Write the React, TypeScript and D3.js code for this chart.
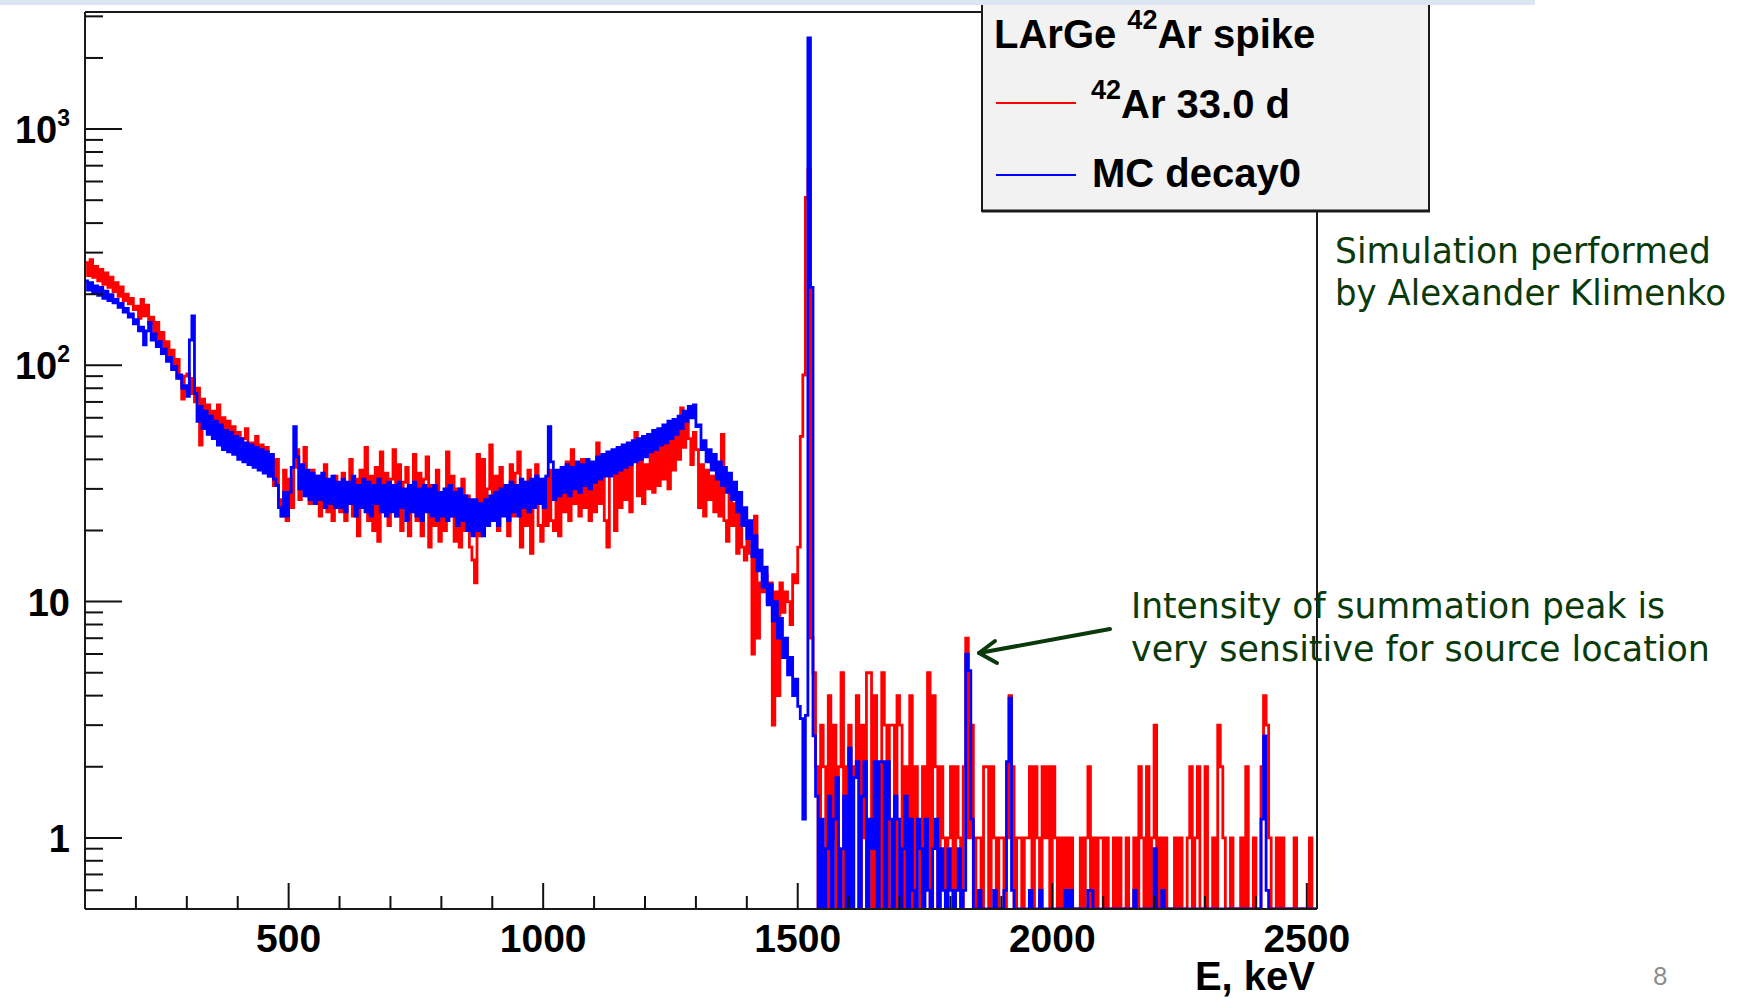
import React from "react";
import * as d3 from "d3";

// ---- binning / ranges ----
const E_MIN = 100;
const E_MAX = 2520;
const BIN_WIDTH = 5;
const Y_MIN = 0.5;
const Y_MAX = 3130;

// ---- axis ticks ----
const xMajorTicks = [500, 1000, 1500, 2000, 2500];
const xMinorTicks = [200, 300, 400, 600, 700, 800, 900, 1100, 1200, 1300, 1400, 1600, 1700, 1800, 1900, 2100, 2200, 2300, 2400];
const yMajorTicks = [1, 10, 100, 1000];
const yTickBase = ["1", "10", "10", "10"];
const yTickExp = ["", "", "2", "3"];
const yMinorTicks = [0.6, 0.7, 0.8, 0.9, 2, 3, 4, 5, 6, 7, 8, 9, 20, 30, 40, 50, 60, 70, 80, 90, 200, 300, 400, 500, 600, 700, 800, 900, 2000, 3000];

// ---- MC decay0 (blue), bins of 5 keV starting at 100 keV ----
const mc100to595 = [
  228, 208, 224, 203, 217, 198, 214, 192, 206, 188, 199, 184, 190, 176, 183, 168, 174, 160, 165, 150,
  156, 140, 145, 122, 140, 152, 128, 136, 120, 126, 112, 117, 104, 108, 96, 99, 88, 91, 80, 82,
  74, 128, 162, 76, 58, 67, 54, 64, 51, 61, 49, 58, 46, 56, 44, 53, 43, 52, 42, 50,
  40, 49, 39, 47, 38, 46, 37, 45, 36, 44, 35, 43, 34, 42, 33, 31, 25, 23, 29, 23,
  29, 37, 55, 41, 30, 38, 28, 36, 27, 35, 26, 34, 27, 35, 25, 33, 26, 34, 25, 32,
];
const mc600to1095 = [
  25, 33, 24, 32, 26, 34, 23, 31, 25, 33, 24, 32, 23, 31, 26, 33, 24, 31, 23, 32,
  24, 31, 23, 32, 25, 30, 22, 31, 24, 32, 23, 30, 22, 31, 24, 30, 23, 31, 22, 29,
  23, 30, 22, 31, 23, 29, 21, 30, 22, 28, 20, 27, 19, 27, 20, 26, 19, 27, 21, 28,
  22, 29, 21, 30, 23, 31, 22, 32, 24, 31, 23, 33, 25, 32, 24, 33, 25, 34, 26, 33,
  25, 34, 55, 39, 27, 36, 28, 37, 29, 38, 28, 37, 30, 39, 29, 38, 31, 40, 30, 39,
];
const mc1100to1530 = [
  32, 41, 33, 42, 34, 43, 34, 44, 35, 45, 36, 46, 37, 47, 38, 48, 39, 49, 40, 50,
  41, 51, 43, 53, 44, 54, 46, 56, 47, 58, 49, 59, 51, 61, 54, 64, 58, 67, 60, 68,
  55, 56, 44, 48, 39, 44, 36, 42, 33, 39, 31, 37, 29, 35, 27, 32, 24, 29, 21, 25,
  18.5, 22, 15.5, 19, 13.5, 16.5, 11.5, 14, 9.7, 11.8, 8.3, 10, 7, 8.5, 5.8, 7, 4.9, 5.8, 4.0, 4.7,
  3.6, 3.2, 1.2, 3.3, 2430, 214, 2.7,
];
const mc1535to2515 = [
  1.5, 0, 1.2, 0, 0.9, 1.5, 0, 1.2, 1.8, 0,
  0.9, 1.5, 0, 2.4, 0, 1.8, 2.1, 0, 1.5, 2.1,
  0, 1.2, 0.9, 2.1, 0, 2.1, 2.1, 0, 2.1, 1.2,
  0, 1.5, 1.2, 0, 0.9, 1.5, 0, 1.2, 0.6, 0,
  1.2, 0.9, 0, 1.2, 0.6, 0, 0.9, 1.2, 0, 0.9,
  0.6, 0, 0.9, 0.6, 0, 0.6, 0.9, 0, 0.6, 6.0,
  5.1, 1.2, 0, 0, 0.6, 0, 0, 0, 0, 0,
  0.6, 0, 0, 0, 0.6, 2.1, 3.9, 0.6, 0, 0,
  0, 0, 0, 0, 0.6, 0, 0, 0, 0.6, 0,
  0, 0, 0, 0, 0, 0,
  0, 0, 0.6, 0, 0.6, 0, 0, 0, 0, 0,
  0, 0.6, 0.6, 0, 0, 0, 0, 0, 0, 0,
  0, 0, 0, 0, 0, 0, 0, 0, 0, 0.6,
  0, 0, 0, 0, 0, 0, 0, 0.9, 0, 0,
  0.6, 0, 0, 0, 0, 0, 0, 0, 0, 0,
  0, 0, 0, 0, 0, 0, 0, 0, 0, 0,
  0, 0, 0, 0, 0, 0, 0, 0, 0, 0,
  0, 0, 0, 0, 0, 0, 0, 0, 0, 1.2,
  2.7, 0.6, 0, 0, 0, 0, 0, 0, 0, 0,
  0, 0, 0, 0, 0, 0, 0, 0, 0, 0, 0,
];

// ---- 42Ar 33.0 d data (red), bins of 5 keV starting at 100 keV ----
const data100to595 = [
  272, 240, 280, 236, 262, 228, 255, 220, 246, 214, 236, 205, 224, 196, 215, 188, 200, 182, 192, 172,
  178, 158, 190, 162, 180, 150, 160, 136, 152, 128, 138, 120, 126, 110, 116, 98, 106, 88, 72, 90,
  92, 76, 88, 70, 80, 46, 72, 62, 68, 56, 64, 52, 68, 47, 60, 50, 58, 47, 55, 45,
  52, 42, 49, 54, 40, 47, 38, 50, 40, 46, 36, 45, 34, 42, 31, 40, 27, 23, 36, 22,
  33, 25, 37, 44, 27, 35, 45, 28, 26, 36, 27, 34, 23, 32, 38, 24, 31, 22, 34, 26,
];
const data600to1095 = [
  24, 35, 22, 31, 40, 23, 33, 19, 36, 25, 45, 22, 34, 20, 37, 18, 43, 24, 35, 21,
  33, 44, 23, 38, 20, 32, 37, 19, 30, 42, 22, 35, 19, 33, 41, 17, 31, 21, 36, 18,
  29, 20, 43, 23, 34, 18, 30, 17, 33, 20, 28, 17, 15, 12, 42, 19, 40, 21, 30, 46,
  22, 34, 20, 37, 24, 31, 19, 38, 23, 35, 43, 17, 32, 21, 36, 16, 30, 38, 21, 18,
  33, 21, 36, 22, 20, 34, 19, 35, 24, 39, 22, 44, 26, 37, 23, 40, 25, 38, 22, 33,
];
const data1100to1530 = [
  24, 47, 26, 38, 22, 17, 35, 40, 20, 37, 25, 41, 27, 39, 24, 43, 52, 28, 41, 26,
  38, 30, 44, 29, 46, 31, 48, 33, 50, 30, 52, 36, 55, 40, 66, 45, 57, 49, 38, 52,
  44, 25, 38, 23, 36, 27, 34, 24, 33, 23, 51, 22, 18, 29, 21, 26, 16, 24, 17, 15,
  21, 16, 6, 23, 7, 12, 11, 13, 10, 12, 3, 11, 4, 12, 9, 11, 10, 8, 13, 12,
  17, 50, 91, 514, 676, 7, 5,
];
const data1535to2515 = [
  2, 0, 3, 2, 0, 4, 1, 3, 0, 2,
  5, 0, 2, 3, 0, 2, 4, 0, 3, 1,
  5, 5, 0, 4, 2, 0, 5, 3, 0, 3,
  3, 0, 4, 3, 0, 2, 1, 4, 0, 2,
  1, 0, 2, 1, 5, 0, 4, 2, 0, 2,
  1, 0, 1, 2, 0, 2, 1, 0, 2, 7,
  1, 3, 0, 1, 1, 0, 2, 2, 0, 2,
  1, 0, 1, 1, 0, 1, 4, 2, 0, 1,
  1, 0, 1, 1, 2, 0, 2, 1, 0, 2,
  1, 2, 0, 2, 1, 0,
  1, 0, 1, 0, 1, 0, 0, 0, 1, 0,
  1, 2, 0, 1, 0, 1, 1, 0, 1, 0,
  0, 1, 0, 1, 0, 0, 1, 0, 0, 1,
  0, 2, 1, 0, 2, 0, 1, 3, 0, 1,
  0, 1, 0, 0, 0, 1, 0, 1, 0, 0,
  1, 2, 0, 1, 2, 0, 0, 2, 0, 0,
  1, 0, 3, 2, 1, 0, 0, 1, 0, 0,
  0, 1, 0, 2, 0, 0, 1, 0, 0, 2,
  4, 3, 1, 0, 0, 1, 0, 1, 0, 0,
  0, 0, 1, 0, 0, 0, 0, 0, 1, 0, 0,
];

const dataSeries = [...data100to595, ...data600to1095, ...data1100to1530, ...data1535to2515];
const mcSeries = [...mc100to595, ...mc600to1095, ...mc1100to1530, ...mc1535to2515];

const legendTitle = "LArGe";
const legendTitleRest = "Ar spike";
const legendData = "Ar 33.0 d";
const legendMC = "MC decay0";
const xTitle = "E, keV";
const noteTop = ["Simulation performed", "by Alexander Klimenko"];
const noteArrow = ["Intensity of summation peak is", "very sensitive for source location"];

const AXIS_FONT = "'Liberation Sans', Arial, Helvetica, sans-serif";
const NOTE_FONT = "'DejaVu Sans', 'Noto Sans', sans-serif";
const GREEN = "#0a3a0a";

export default function App() {
  const W = 1740;
  const H = 999;
  const L = 85, R = 1317, T = 12, B = 909;

  const x = d3.scaleLinear().domain([E_MIN, E_MAX]).range([L, R]);
  const y = d3.scaleLog().domain([Y_MIN, Y_MAX]).range([B, T]);

  const stepPath = (vals: number[]) => {
    const pts: [number, number][] = [];
    vals.forEach((v, i) => {
      const e0 = E_MIN + i * BIN_WIDTH;
      const yy = v > Y_MIN ? y(v) : y(Y_MIN);
      pts.push([x(e0), yy], [x(e0 + BIN_WIDTH), yy]);
    });
    return d3.line()(pts) || "";
  };

  const redPath = stepPath(dataSeries);
  const bluePath = stepPath(mcSeries);

  return (
    <svg
      width={W}
      height={H}
      viewBox={`0 0 ${W} ${H}`}
      style={{ position: "absolute", left: 0, top: 0, display: "block", background: "#fff" }}
    >
      <defs>
        <clipPath id="plotClip">
          <rect x={L} y={T} width={R - L} height={B - T + 1} />
        </clipPath>
      </defs>
      <rect x={0} y={0} width={W} height={H} fill="#fff" />

      <g clipPath="url(#plotClip)">
        <path d={redPath} fill="none" stroke="#ff0000" strokeWidth={2.8} strokeLinejoin="miter" />
        <path d={bluePath} fill="none" stroke="#0000ff" strokeWidth={2.8} strokeLinejoin="miter" />
      </g>

      {/* frame */}
      <g stroke="#1a1a1a" strokeWidth={2} fill="none">
        <line x1={L} y1={T} x2={R} y2={T} />
        <line x1={R} y1={T} x2={R} y2={B} />
        <line x1={L} y1={T} x2={L} y2={B} />
        <line x1={L} y1={B} x2={R} y2={B} />
      </g>

      {/* ticks */}
      <g stroke="#111" strokeWidth={2}>
        {xMajorTicks.map((t) => (
          <line key={"xM" + t} x1={x(t)} x2={x(t)} y1={B} y2={B - 26} />
        ))}
        {xMinorTicks.map((t) => (
          <line key={"xm" + t} x1={x(t)} x2={x(t)} y1={B} y2={B - 13} />
        ))}
        {yMajorTicks.map((t) => (
          <line key={"yM" + t} x1={L} x2={L + 37} y1={y(t)} y2={y(t)} />
        ))}
        {yMinorTicks.map((t) => (
          <line key={"ym" + t} x1={L} x2={L + 18} y1={y(t)} y2={y(t)} />
        ))}
      </g>

      {/* x labels */}
      <g fontFamily={AXIS_FONT} fontWeight="bold" fontSize={39} fill="#000" textAnchor="middle">
        {xMajorTicks.map((t) => (
          <text key={"xl" + t} x={x(t)} y={952}>
            {t}
          </text>
        ))}
      </g>
      <text x={1315} y={990} fontFamily={AXIS_FONT} fontWeight="bold" fontSize={40} textAnchor="end" fill="#000">
        {xTitle}
      </text>

      {/* y labels */}
      <g fontFamily={AXIS_FONT} fontWeight="bold" fontSize={38} fill="#000" textAnchor="end">
        {yMajorTicks.map((t, i) => (
          <text key={"yl" + t} x={70} y={y(t) + 14}>
            {yTickBase[i]}
            {yTickExp[i] ? (
              <tspan dy={-17} fontSize={23}>
                {yTickExp[i]}
              </tspan>
            ) : null}
          </text>
        ))}
      </g>

      {/* legend */}
      <rect x={982} y={2} width={447} height={209} fill="#f2f2f2" stroke="#1a1a1a" strokeWidth={2} />
      <line x1={982} x2={1430} y1={211} y2={211} stroke="#1a1a1a" strokeWidth={3} />
      <text x={994} y={48} fontFamily={AXIS_FONT} fontWeight="bold" fontSize={40} fill="#000">
        {legendTitle + " "}
        <tspan dy={-19} fontSize={27}>42</tspan>
        <tspan dy={19}>{legendTitleRest}</tspan>
      </text>
      <line x1={996} x2={1076} y1={103} y2={103} stroke="#ff0000" strokeWidth={2} />
      <text x={1091} y={118} fontFamily={AXIS_FONT} fontWeight="bold" fontSize={40} fill="#000">
        <tspan dy={-19} fontSize={27}>42</tspan>
        <tspan dy={19}>{legendData}</tspan>
      </text>
      <line x1={996} x2={1076} y1={175} y2={175} stroke="#0000ff" strokeWidth={2} />
      <text x={1092} y={187} fontFamily={AXIS_FONT} fontWeight="bold" fontSize={40} fill="#000">
        {legendMC}
      </text>

      {/* slide top band */}
      <rect x={0} y={0} width={1535} height={5} fill="#dce6f2" />

      {/* annotations */}
      <g fontFamily={NOTE_FONT} fontSize={35} fill={GREEN}>
        <text x={1335} y={263} textLength={376} lengthAdjust="spacingAndGlyphs">
          {noteTop[0]}
        </text>
        <text x={1335} y={305} textLength={391} lengthAdjust="spacingAndGlyphs">
          {noteTop[1]}
        </text>
        <text x={1131} y={618} textLength={534} lengthAdjust="spacingAndGlyphs">
          {noteArrow[0]}
        </text>
        <text x={1131} y={661} textLength={579} lengthAdjust="spacingAndGlyphs">
          {noteArrow[1]}
        </text>
      </g>
      <g stroke={GREEN} strokeWidth={4} strokeLinecap="round" fill="none">
        <line x1={1110} y1={629} x2={979} y2={653} />
        <polyline points="995,641 979,653 997,663" strokeLinejoin="round" />
      </g>

      <text x={1653} y={985} fontFamily="Lato, 'Open Sans', sans-serif" fontSize={25} fill="#8c8c8c">
        8
      </text>
    </svg>
  );
}
